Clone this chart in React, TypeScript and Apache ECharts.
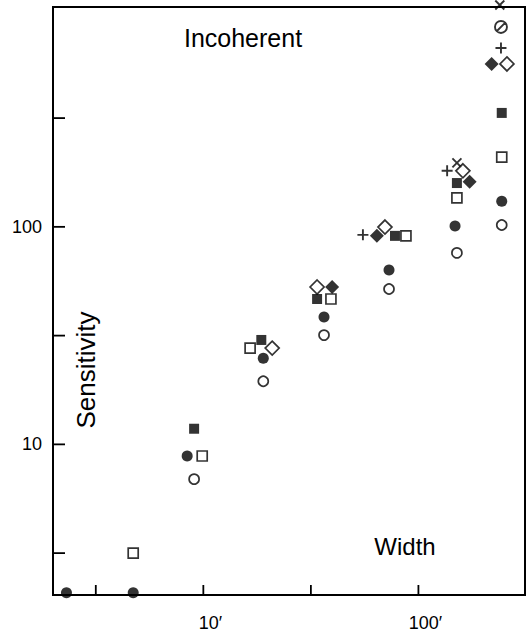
import { useEffect, useRef } from 'react';
import * as echarts from 'echarts';

// Width (arc-minutes) vs. sensitivity, one array per marker type
const filledCircle = [[2.31, 2.08], [4.72, 2.08], [8.41, 8.84], [19.0, 24.9], [36.4, 38.5], [73.0, 63.4], [148, 101], [244, 131]];
const openCircle = [[9.06, 6.92], [19.0, 19.5], [36.4, 31.8], [73.0, 51.8], [151, 75.9], [244, 102]];
const filledSquare = [[9.06, 11.8], [18.6, 30.2], [33.8, 46.6], [77.8, 90.9], [151, 159], [244, 334]];
const openSquare = [[4.72, 3.16], [9.88, 8.84], [16.5, 27.7], [39.2, 46.6], [87.5, 90.9], [151, 136], [244, 209]];
const filledDiamond = [[39.7, 52.9], [64.1, 90.9], [173, 161], [219, 561]];
const openDiamond = [[20.9, 27.7], [33.8, 52.9], [69.9, 99.8], [161, 181], [258, 561]];
const plusMark = [[55.2, 91.9], [136, 181], [242, 664]];
const crossMark = [[151, 197], [239, 1047]];
const slashedCircle = [[242, 830]];

const xRange = [2, 313];
const yRange = [2.03, 1025];
const xTickValues = [3.1623, 10, 31.623, 100];
const yTickValues = [3.1623, 10, 31.623, 100, 316.23];
const labelledDecades = [10, 100];

const FONT = '"Liberation Sans", Arial, Helvetica, sans-serif';

const PLUS_PATH = 'path://M0,5L10,5M5,0L5,10';
const CROSS_PATH = 'path://M0,0L10,10M10,0L0,10';
const SLASH_CIRCLE_PATH = 'path://M10,5A5,5,0,1,1,0,5A5,5,0,1,1,10,5ZM8.6,1.4L1.4,8.6';

function filled(symbol: string, size: number | number[]) {
  return { symbol, symbolSize: size, itemStyle: { color: '#000', borderWidth: 0 } };
}
function hollow(symbol: string, size: number | number[], width = 1.7) {
  return { symbol, symbolSize: size, itemStyle: { color: '#fff', borderColor: '#000', borderWidth: width } };
}
function stroked(symbol: string, size: number | number[], width = 1.9) {
  return { symbol, symbolSize: size, itemStyle: { color: 'rgba(0,0,0,0)', borderColor: '#000', borderWidth: width } };
}

function decadeLabel(v: number, suffix: string) {
  const hit = labelledDecades.find((d) => Math.abs(v - d) / d < 0.01);
  return hit ? `${hit}${suffix}` : '';
}

function logAxis(range: number[], label: object) {
  return {
    type: 'log',
    logBase: 10,
    min: range[0],
    max: range[1],
    splitLine: { show: false },
    minorTick: { show: false },
    axisTick: { show: false },
    axisLine: { show: true, lineStyle: { color: '#000', width: 2 } },
    axisLabel: {
      color: '#000',
      fontSize: 18,
      fontFamily: FONT,
      showMinLabel: true,
      showMaxLabel: true,
      ...label,
    },
  };
}

// Inward half-decade ticks, placed through the axes' own log scales
function tickSeries(values: number[], dir: 'x' | 'y') {
  const len = dir === 'x' ? 10 : 12;
  return {
    type: 'custom',
    silent: true,
    clip: false,
    z: 100,
    data: values.map((v) => (dir === 'x' ? [v, yRange[0]] : [xRange[0], v])),
    renderItem: (_params: unknown, api: any) => {
      const p = api.coord([api.value(0), api.value(1)]);
      const shape =
        dir === 'x'
          ? { x1: p[0], y1: p[1], x2: p[0], y2: p[1] - len }
          : { x1: p[0], y1: p[1], x2: p[0] + len, y2: p[1] };
      return { type: 'line', shape, style: { stroke: '#000', lineWidth: 1.8 } };
    },
  };
}

export default function App() {
  const ref = useRef<HTMLDivElement>(null);

  useEffect(() => {
    if (!ref.current) return;
    const chart = echarts.init(ref.current, null, { renderer: 'svg' });

    const mk = (name: string, data: number[][], style: object, z = 2) => ({
      type: 'scatter',
      name,
      data,
      clip: false,
      z,
      emphasis: { disabled: true },
      ...style,
    });

    chart.setOption({
      animation: false,
      backgroundColor: '#fff',
      grid: {
        left: 53,
        right: 7,
        top: 7,
        bottom: 37,
        show: true,
        borderColor: '#000',
        borderWidth: 2,
        backgroundColor: 'transparent',
      },
      xAxis: logAxis(xRange, {
        margin: 19,
        padding: [0, 0, 0, 14],
        formatter: (v: number) => decadeLabel(v, '′'),
      }),
      yAxis: logAxis(yRange, {
        margin: 11,
        formatter: (v: number) => decadeLabel(v, ''),
      }),
      graphic: [
        {
          type: 'text',
          x: 243,
          y: 38,
          style: {
            text: 'Incoherent',
            fill: '#000',
            font: `25px ${FONT}`,
            align: 'center',
            verticalAlign: 'middle',
          },
        },
        {
          type: 'text',
          x: 405,
          y: 546,
          style: {
            text: 'Width',
            fill: '#000',
            font: `24px ${FONT}`,
            align: 'center',
            verticalAlign: 'middle',
          },
        },
        {
          type: 'text',
          x: 86,
          y: 370,
          rotation: Math.PI / 2,
          style: {
            text: 'Sensitivity',
            fill: '#000',
            font: `26px ${FONT}`,
            align: 'center',
            verticalAlign: 'middle',
          },
        },
      ],
      series: [
        tickSeries(xTickValues, 'x'),
        tickSeries(yTickValues, 'y'),
        mk('filledCircle', filledCircle, filled('circle', 11)),
        mk('openCircle', openCircle, hollow('circle', 10)),
        mk('filledSquare', filledSquare, filled('rect', 10)),
        mk('openSquare', openSquare, hollow('rect', 10), 3),
        mk('filledDiamond', filledDiamond, filled('diamond', 14), 3),
        mk('openDiamond', openDiamond, hollow('diamond', 14), 4),
        mk('plusMark', plusMark, stroked(PLUS_PATH, 11)),
        mk('crossMark', crossMark, stroked(CROSS_PATH, 9)),
        mk('slashedCircle', slashedCircle, stroked(SLASH_CIRCLE_PATH, 12)),
      ],
    });

    return () => chart.dispose();
  }, []);

  return (
    <div
      ref={ref}
      style={{ position: 'absolute', left: 0, top: 0, width: 532, height: 632, background: '#fff' }}
    />
  );
}
